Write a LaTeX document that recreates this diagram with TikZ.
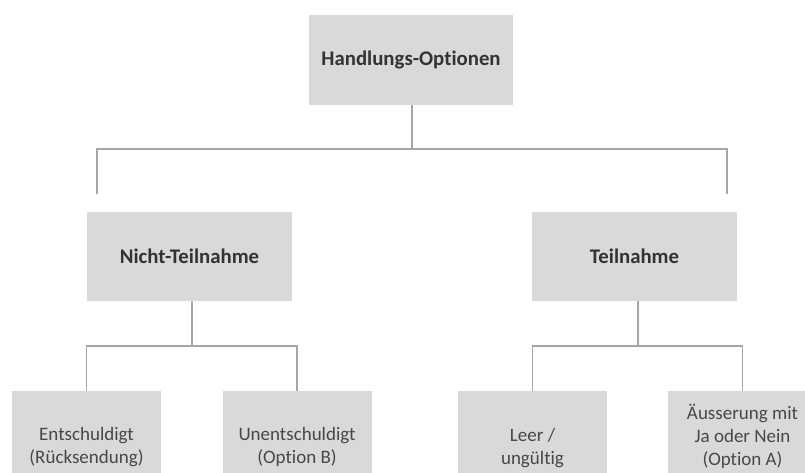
\documentclass[tikz,border=0pt]{standalone}
\usepackage{fontspec}
\setmainfont{Carlito}[Ligatures=NoCommon]
\definecolor{boxfill}{HTML}{D9D9D9}
\definecolor{linegray}{HTML}{A6A6A6}
\definecolor{txt}{HTML}{333333}
\tikzset{
  headbox/.style={fill=boxfill, draw=none, minimum width=205pt, minimum height=89pt,
    inner sep=0pt, text=txt, font=\fontsize{20.8}{25}\selectfont\bfseries, align=center},
  leafbox/.style={fill=boxfill, draw=none, minimum width=149pt,
    inner sep=0pt, text=txt!90!white, font=\fontsize{19}{23}\selectfont, align=center},
  conn/.style={draw=linegray, line width=1.8pt}
}
\begin{document}
\begin{tikzpicture}[x=1pt,y=-1pt]
\useasboundingbox (0,0) rectangle (805,472);
\clip (0,0) rectangle (805,472);
\fill[white] (0,0) rectangle (805,472);

\node[headbox, minimum width=204pt, minimum height=90pt] (root) at (411,60) {Handlungs-Optionen};
\node[headbox] (nt) at (189.5,256.5) {Nicht-Teilnahme};
\node[headbox] (t) at (634.5,256.5) {Teilnahme};

\node[leafbox, minimum height=112pt] (e) at (86.5,447) {Entschuldigt\\(Rücksendung)};
\node[leafbox, minimum height=112pt] (u) at (297,447) {Unentschuldigt\\(Option B)};
\node[leafbox, minimum height=114pt] (l) at (532.5,448) {Leer /\\ungültig};
\node[leafbox, minimum height=90pt] (a) at (742.5,436) {Äusserung mit\\Ja oder Nein\\(Option A)};

\coordinate (rb) at (412,149);
\coordinate (dl) at (97,194);
\coordinate (dr) at (727,194);
\draw[conn] (root.south -| rb) -- (rb);
\draw[conn] (dl) -- (dl |- rb) -- (dr |- rb) -- (dr);

\coordinate (ntb) at (192,346);
\draw[conn] (nt.south -| ntb) -- (ntb);
\draw[conn] (e.north) -- (e.north |- ntb) -- (u.north |- ntb) -- (u.north);

\coordinate (tb) at (638,346);
\draw[conn] (t.south -| tb) -- (tb);
\draw[conn] (l.north) -- (l.north |- tb) -- (a.north |- tb) -- (a.north);
\end{tikzpicture}
\end{document}
